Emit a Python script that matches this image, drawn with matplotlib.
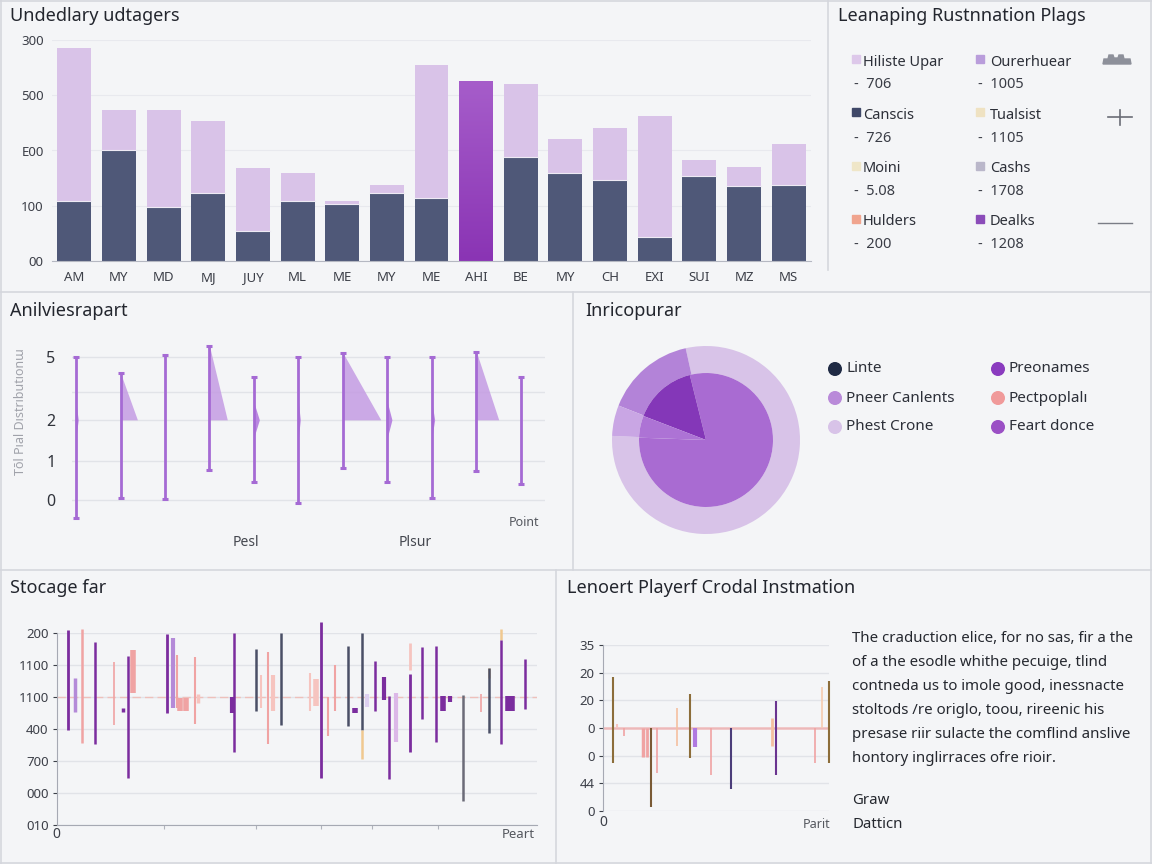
import numpy as np
import matplotlib.pyplot as plt
from matplotlib.patches import Rectangle, Polygon, Circle
from matplotlib.colors import LinearSegmentedColormap

plt.rcParams['font.family'] = ['Noto Sans', 'DejaVu Sans']

W, H = 1152, 864
BG = '#f4f5f7'
EDGE = '#d5d7dd'
TITLE = '#23262e'
TICK = '#3c3f48'
GRID = '#e1e3e8'

# ---- top left: stacked bars ----
bar_labels = ['AM', 'MY', 'MD', 'MJ', 'JUY', 'ML', 'ME', 'MY', 'ME', 'AHI',
              'BE', 'MY', 'CH', 'EXI', 'SUI', 'MZ', 'MS']
bar_base = [1.09, 2.01, 0.98, 1.23, 0.54, 1.09, 1.03, 1.23, 1.14, 0.0,
            1.88, 1.59, 1.47, 0.43, 1.54, 1.36, 1.38]
bar_total = [3.86, 2.73, 2.73, 2.53, 1.68, 1.59, 1.09, 1.38, 3.55, 3.24,
             3.20, 2.21, 2.41, 2.62, 1.83, 1.70, 2.12]
bar_highlight = 9
bar_yticks = ['00', '100', 'E00', '500', '300']

# ---- top right: legend panel ----
leg_labels = ['Hiliste Upar', 'Ourerhuear', 'Canscis', 'Tualsist',
              'Moini', 'Cashs', 'Hulders', 'Dealks']
leg_values = ['706', '1005', '726', '1105', '5.08', '1708', '200', '1208']
leg_colors = ['#ddc8ea', '#b99ddb', '#3f4868', '#efe2c2',
              '#efe6c8', '#bab7ca', '#f0a48e', '#8b4cb9']

# ---- middle left: spikes ----
spike_top = [5.0, 4.44, 5.07, 5.38, 4.3, 5.0, 5.14, 5.0, 5.0, 5.17, 4.3]
spike_low = [-0.63, 0.07, 0.03, 1.05, 0.63, -0.1, 1.12, 0.63, 0.07, 1.01, 0.56]
spike_fill = [0.0, 0.38, 0.0, 0.40, 0.0, 0.0, 0.85, 0.0, 0.0, 0.50, 0.0]
spike_bulge = [0.05, 0.0, 0.0, 0.0, 0.12, 0.04, 0.0, 0.1, 0.06, 0.0, 0.0]
spike_level = 2.8
spike_grid = [0, 1.36, 2.8, 3.78, 5]
spike_ticklabels = ['0', '1', '2', '', '5']

# ---- middle right: nested pie ----
pie_outer = [285, 56, 19]
pie_outer_colors = ['#d8c3e8', '#b383d8', '#c9a6e4']
pie_inner = [286, 55, 19]
pie_inner_colors = ['#a96bd2', '#8437b8', '#ad73d5']
pie_labels = ['Linte', 'Preonames', 'Pneer Canlents', 'Pectpoplalı',
              'Phest Crone', 'Feart donce']
pie_colors = ['#1f2a44', '#8a3bbf', '#b98ad9', '#f09a9a', '#d8c3e8', '#9b50c5']

# ---- bottom left: ranges ----
P, S, SL, L, N, G, B = ('#7b2d9e', '#f0a3a3', '#f6c4bf', '#b48ad8',
                        '#4a4f66', '#6b6b78', '#f0c890')
st_x = [2.3, 3.75, 5.2, 7.9, 11.9, 13.75, 14.8, 15.8, 22.9, 24.2, 25.0, 25.6,
        26.9, 28.75, 29.4, 36.5, 36.9, 41.5, 42.5, 44.0, 45.0, 46.7, 52.7,
        54.0, 55.0, 56.5, 57.9, 60.6, 62.1, 63.5, 63.5, 64.6, 66.25, 68.1,
        69.2, 70.6, 73.5, 73.5, 76.0, 79.0, 80.4, 81.9, 84.6, 88.3, 90.0,
        90.0, 92.5, 92.5, 94.0, 94.8, 97.5]
st_hi = [6.09, 4.59, 6.13, 5.72, 5.09, 3.66, 5.28, 5.47, 5.97, 5.84, 5.31, 3.97,
         3.97, 5.25, 4.09, 4.0, 6.0, 5.5, 4.69, 5.41, 4.69, 6.0, 4.75, 4.56,
         6.34, 4.0, 5.0, 5.59, 3.66, 6.0, 2.97, 4.09, 5.13, 4.63, 4.03, 4.13,
         5.69, 4.72, 5.56, 5.59, 4.03, 4.03, 4.06, 4.09, 4.6, 4.91, 6.13, 5.78,
         4.03, 4.03, 5.19]
st_lo = [2.97, 3.53, 2.56, 2.53, 3.13, 3.53, 1.47, 4.13, 3.5, 3.66, 3.66, 3.56,
         3.56, 3.16, 3.81, 3.5, 2.28, 3.56, 3.66, 2.53, 3.56, 3.13, 3.56, 3.72,
         1.47, 2.78, 3.56, 3.09, 3.5, 2.97, 2.06, 3.69, 3.56, 3.91, 1.44, 2.59,
         4.84, 2.28, 3.31, 2.59, 3.56, 3.84, 0.75, 3.53, 4.91, 2.88, 5.78, 2.53,
         3.56, 3.56, 3.63]
st_col = [P, L, S, P, S, P, P, S, P, L, S, S, S, S, SL, P, P, N, SL, S, SL, N,
          SL, SL, P, S, S, N, P, N, B, '#ddd0f0', P, P, P, '#dcb8e8', SL, P,
          P, P, P, P, G, S, B, N, B, P, P, P, P]
st_lw = [2, 2.5, 1.8, 1.8, 1.2, 2.5, 1.8, 4, 2, 3, 1.5, 4, 4, 1.5, 2.5, 3, 1.8,
         1.8, 1.5, 1.5, 3, 1.8, 1.5, 4, 2, 1.5, 1.5, 1.8, 4, 1.8, 1.8, 3, 1.8,
         3, 1.8, 3, 2, 2, 1.8, 1.8, 4, 3, 1.8, 1.2, 1.8, 1.8, 1.8, 1.8, 4, 4, 1.8]
st_ticklabels = ['010', '000', '700', '400', '1100', '1100', '200']
st_minor = [22.2, 41.5, 55.0, 65.6, 79.4]

# ---- bottom right: ranges ----
OL, BR, PE, PL = '#8c6d3a', '#7a5a35', '#f4c0a0', '#f6cbb0'
pl_x = [4.4, 6.2, 9.3, 17.7, 19.5, 21.2, 23.9, 32.7, 38.5, 40.7, 47.8, 56.6,
        74.8, 76.5, 93.8, 96.9, 100.0]
pl_hi = [4.84, 3.14, 3.0, 3.0, 3.0, 3.0, 3.0, 3.72, 4.22, 3.0, 3.0, 3.0,
         3.36, 3.97, 3.0, 4.48, 4.69]
pl_lo = [1.73, 3.0, 2.71, 1.95, 1.95, 0.14, 1.37, 2.35, 1.91, 2.31, 1.30, 0.79,
         2.35, 1.30, 1.73, 3.0, 1.73]
pl_col = [OL, SL, S, S, S, BR, S, PE, OL, '#b07ae0', S, '#4b3d7a', PE,
          '#6a3490', S, PL, OL]
pl_lw = [1.5, 1.5, 1.2, 2.5, 2, 1.5, 1.2, 1.2, 1.5, 3, 1.2, 1.5, 2, 1.5, 1.2,
         1.2, 1.5]
pl_ticklabels = ['0', '44', '0', '0', '20', '20', '35']

note_lines = ['The craduction elice, for no sas, fir a the',
              'of a the esodle whithe pecuige, tlind',
              'contneda us to imole good, inessnacte',
              'stoltods /re origlo, toou, rireenic his',
              'presase riir sulacte the comflind anslive',
              'hontory inglirraces ofre rioir.']

fig = plt.figure(figsize=(W / 100, H / 100), dpi=100, facecolor=BG)
bg = fig.add_axes([0, 0, 1, 1])
bg.set_xlim(0, W)
bg.set_ylim(H, 0)
bg.axis('off')


def px_axes(x0, y0, x1, y1):
    ax = fig.add_axes([x0 / W, 1 - y1 / H, (x1 - x0) / W, (y1 - y0) / H])
    ax.set_facecolor('none')
    return ax


# panel borders
for x0, y0, x1, y1 in [(0, 292, W, 292), (828, 0, 828, 270), (573, 292, 573, 570),
                       (0, 570, W, 570), (556, 570, 556, H), (1, 0, 1, H),
                       (W - 1, 0, W - 1, H), (0, 1, W, 1), (0, H - 1, W, H - 1)]:
    bg.plot([x0, x1], [y0, y1], color=EDGE, lw=1.2)

# titles
for tx, ty, t in [(10, 16, 'Undedlary udtagers'), (838, 16, 'Leanaping Rustnnation Plags'),
                  (10, 311, 'Anilviesrapart'), (585, 311, 'Inricopurar'),
                  (10, 588, 'Stocage far'), (567, 588, 'Lenoert Playerf Crodal Instmation')]:
    bg.text(tx, ty, t, fontsize=13, color=TITLE, va='center', ha='left')

# --- stacked bars
ax1 = px_axes(52, 40, 811, 261)
xb = np.arange(len(bar_labels))
grad = np.linspace(0, 1, 256).reshape(-1, 1)
hl_cmap = LinearSegmentedColormap.from_list('hl', ['#8a34b4', '#a65dca'])
for i in xb:
    if i == bar_highlight:
        ax1.imshow(grad, cmap=hl_cmap, origin='lower', aspect='auto', zorder=2,
                   extent=(i - 0.38, i + 0.38, 0, bar_total[i]))
        continue
    ax1.bar(i, bar_base[i], 0.76, color='#4f5878', zorder=2)
    ax1.bar(i, bar_total[i] - bar_base[i], 0.76, bottom=bar_base[i],
            color='#d9c3e8', zorder=2)
    ax1.plot([i - 0.38, i + 0.38], [bar_base[i]] * 2, color='#eeeaf4', lw=0.8, zorder=3)
ax1.set_xlim(-0.5, 16.5)
ax1.set_ylim(0, 4)
ax1.set_xticks(xb)
ax1.set_xticklabels(bar_labels)
ax1.set_yticks(range(5))
ax1.set_yticklabels(bar_yticks)
ax1.tick_params(length=0, labelsize=9.5, colors=TICK)
ax1.tick_params(axis='x', pad=7)
ax1.tick_params(axis='y', pad=6)
ax1.grid(axis='y', color='#e8e9ee', lw=0.8)
ax1.set_axisbelow(True)
for s in ['left', 'top', 'right']:
    ax1.spines[s].set_visible(False)
ax1.spines['bottom'].set_color('#b5b8c2')

# --- legend panel
for k, (lab, val, col) in enumerate(zip(leg_labels, leg_values, leg_colors)):
    r, c = divmod(k, 2)
    xs = [852, 976][c]
    yl = 62 + r * 53.3
    bg.add_patch(Rectangle((xs, yl - 7), 8, 8, color=col))
    bg.text(xs + [11, 14][c], yl, lab, fontsize=10.5, color='#2c2f38', va='center')
    bg.text(xs + 2, yl + 23, '-  ' + val, fontsize=10.5, color='#3a3d46', va='center')

bg.add_patch(Polygon([(1103, 64), (1104, 59), (1108, 59), (1109, 55), (1113, 55),
                      (1114, 58), (1118, 58), (1119, 55), (1123, 55), (1124, 59),
                      (1130, 59), (1131, 64)], closed=True, color='#8d909a'))
bg.plot([1108, 1132], [117, 117], color='#6a6d76', lw=1.2)
bg.plot([1120, 1120], [110, 125], color='#6a6d76', lw=1.2)
bg.plot([1098, 1132], [223, 223], color='#7a7d86', lw=1)

# --- spikes
ax2 = px_axes(72, 340, 545, 525)
SPIKE = '#a56ad4'
for i in range(len(spike_top)):
    ax2.plot([i, i], [spike_low[i], spike_top[i]], color=SPIKE, lw=2,
             marker='_', ms=4.5, mew=2.2, clip_on=False, zorder=3)
    if spike_fill[i] > 0:
        ys = np.array([spike_level, spike_top[i]])
        ax2.fill_betweenx(ys, i, i + spike_fill[i] * (spike_top[i] - ys) /
                          (spike_top[i] - spike_level), color='#c49ce3',
                          alpha=0.85, lw=0, zorder=2)
    if spike_bulge[i] > 0:
        ys = np.array([spike_level - 0.6, spike_level, spike_level + 0.6])
        ax2.fill_betweenx(ys, i, i + np.array([0, spike_bulge[i], 0]),
                          color='#b987e0', lw=0, zorder=2)
ax2.set_xlim(-0.09, 10.54)
ax2.set_ylim(-0.874, 5.59)
ax2.set_yticks(spike_grid)
ax2.set_yticklabels(spike_ticklabels)
ax2.set_xticks([])
ax2.tick_params(axis='y', length=0, pad=12, labelsize=11.5, colors='#30333b')
ax2.grid(axis='y', color=GRID, lw=1)
ax2.set_axisbelow(True)
for s in ax2.spines.values():
    s.set_visible(False)
bg.text(21, 412, 'Tōl Pıal Dıstrıbutıonɯ', rotation=90, fontsize=9,
        color='#a0a2aa', ha='center', va='center')
bg.text(246, 542, 'Pesl', fontsize=10, color='#44474f', ha='center', va='center')
bg.text(415, 542, 'Plsur', fontsize=10, color='#44474f', ha='center', va='center')
bg.text(524, 523, 'Point', fontsize=9, color='#55585f', ha='center', va='center')

# --- nested pie
ax3 = px_axes(606, 340, 806, 540)
ax3.pie(pie_outer, radius=0.94, colors=pie_outer_colors, startangle=177.5,
        wedgeprops=dict(width=0.27, linewidth=0))
ax3.pie(pie_inner, radius=0.67, colors=pie_inner_colors, startangle=178,
        wedgeprops=dict(linewidth=0))
ax3.set_xlim(-1, 1)
ax3.set_ylim(-1, 1)
ax3.set_aspect('equal')

for k, (lab, col) in enumerate(zip(pie_labels, pie_colors)):
    r, c = divmod(k, 2)
    cx = [835, 998][c]
    cy = 369 + r * 29
    bg.add_patch(Circle((cx, cy), 6.3, color=col))
    bg.text(cx + 11, cy, lab, fontsize=11, color='#2c2f38', va='center')

# --- bottom left ranges
ax4 = px_axes(57, 633, 537, 825)
ax4.axhline(4.0, color='#f2b8b0', lw=1, ls=(0, (6, 3)), alpha=0.8, zorder=1)
for x, lo, hi, col, lw in zip(st_x, st_lo, st_hi, st_col, st_lw):
    ax4.plot([x, x], [lo, hi], color=col, lw=lw, solid_capstyle='butt',
             clip_on=False, zorder=3)
ax4.set_xlim(0, 100)
ax4.set_ylim(0, 6)
ax4.set_yticks(range(7))
ax4.set_yticklabels(st_ticklabels)
ax4.set_xticks(st_minor)
ax4.set_xticklabels([])
ax4.tick_params(axis='y', length=3, pad=3, labelsize=9.5, colors='#3c3f48')
ax4.tick_params(axis='x', length=3, colors='#b0b3bc')
ax4.grid(axis='y', color=GRID, lw=1)
ax4.set_axisbelow(True)
for s in ['top', 'right']:
    ax4.spines[s].set_visible(False)
ax4.spines['left'].set_color('#a6a9b3')
ax4.spines['bottom'].set_color('#a6a9b3')
bg.text(56, 834, '0', fontsize=10, color='#3c3f48', ha='center', va='center')
bg.text(518, 834, 'Peart', fontsize=9.5, color='#55585f', ha='center', va='center')

# --- bottom right ranges
ax5 = px_axes(603, 645, 829, 811)
ax5.axhline(3.0, color='#f0aeae', lw=1.8, alpha=0.8, zorder=1)
for x, lo, hi, col, lw in zip(pl_x, pl_lo, pl_hi, pl_col, pl_lw):
    ax5.plot([x, x], [lo, hi], color=col, lw=lw, solid_capstyle='butt',
             clip_on=False, zorder=3)
ax5.set_xlim(0, 100)
ax5.set_ylim(0, 6)
ax5.set_yticks(range(7))
ax5.set_yticklabels(pl_ticklabels)
ax5.set_xticks([])
ax5.tick_params(axis='y', length=3, pad=3, labelsize=9.5, colors='#3c3f48')
ax5.grid(axis='y', color=GRID, lw=1)
ax5.set_axisbelow(True)
for s in ['top', 'right', 'bottom']:
    ax5.spines[s].set_visible(False)
ax5.spines['left'].set_color('#a6a9b3')
bg.text(603, 822, '0', fontsize=10, color='#3c3f48', ha='center', va='center')
bg.text(817, 825, 'Parit', fontsize=9, color='#55585f', ha='center', va='center')

for k, line in enumerate(note_lines):
    bg.text(852, 638 + k * 24.2, line, fontsize=10.8, color='#25282f', va='center')
bg.text(852, 801, 'Graw', fontsize=10.8, color='#25282f', va='center')
bg.text(852, 824, 'Datticn', fontsize=10.8, color='#25282f', va='center')

fig.savefig('out.png', dpi=100, facecolor=BG)
